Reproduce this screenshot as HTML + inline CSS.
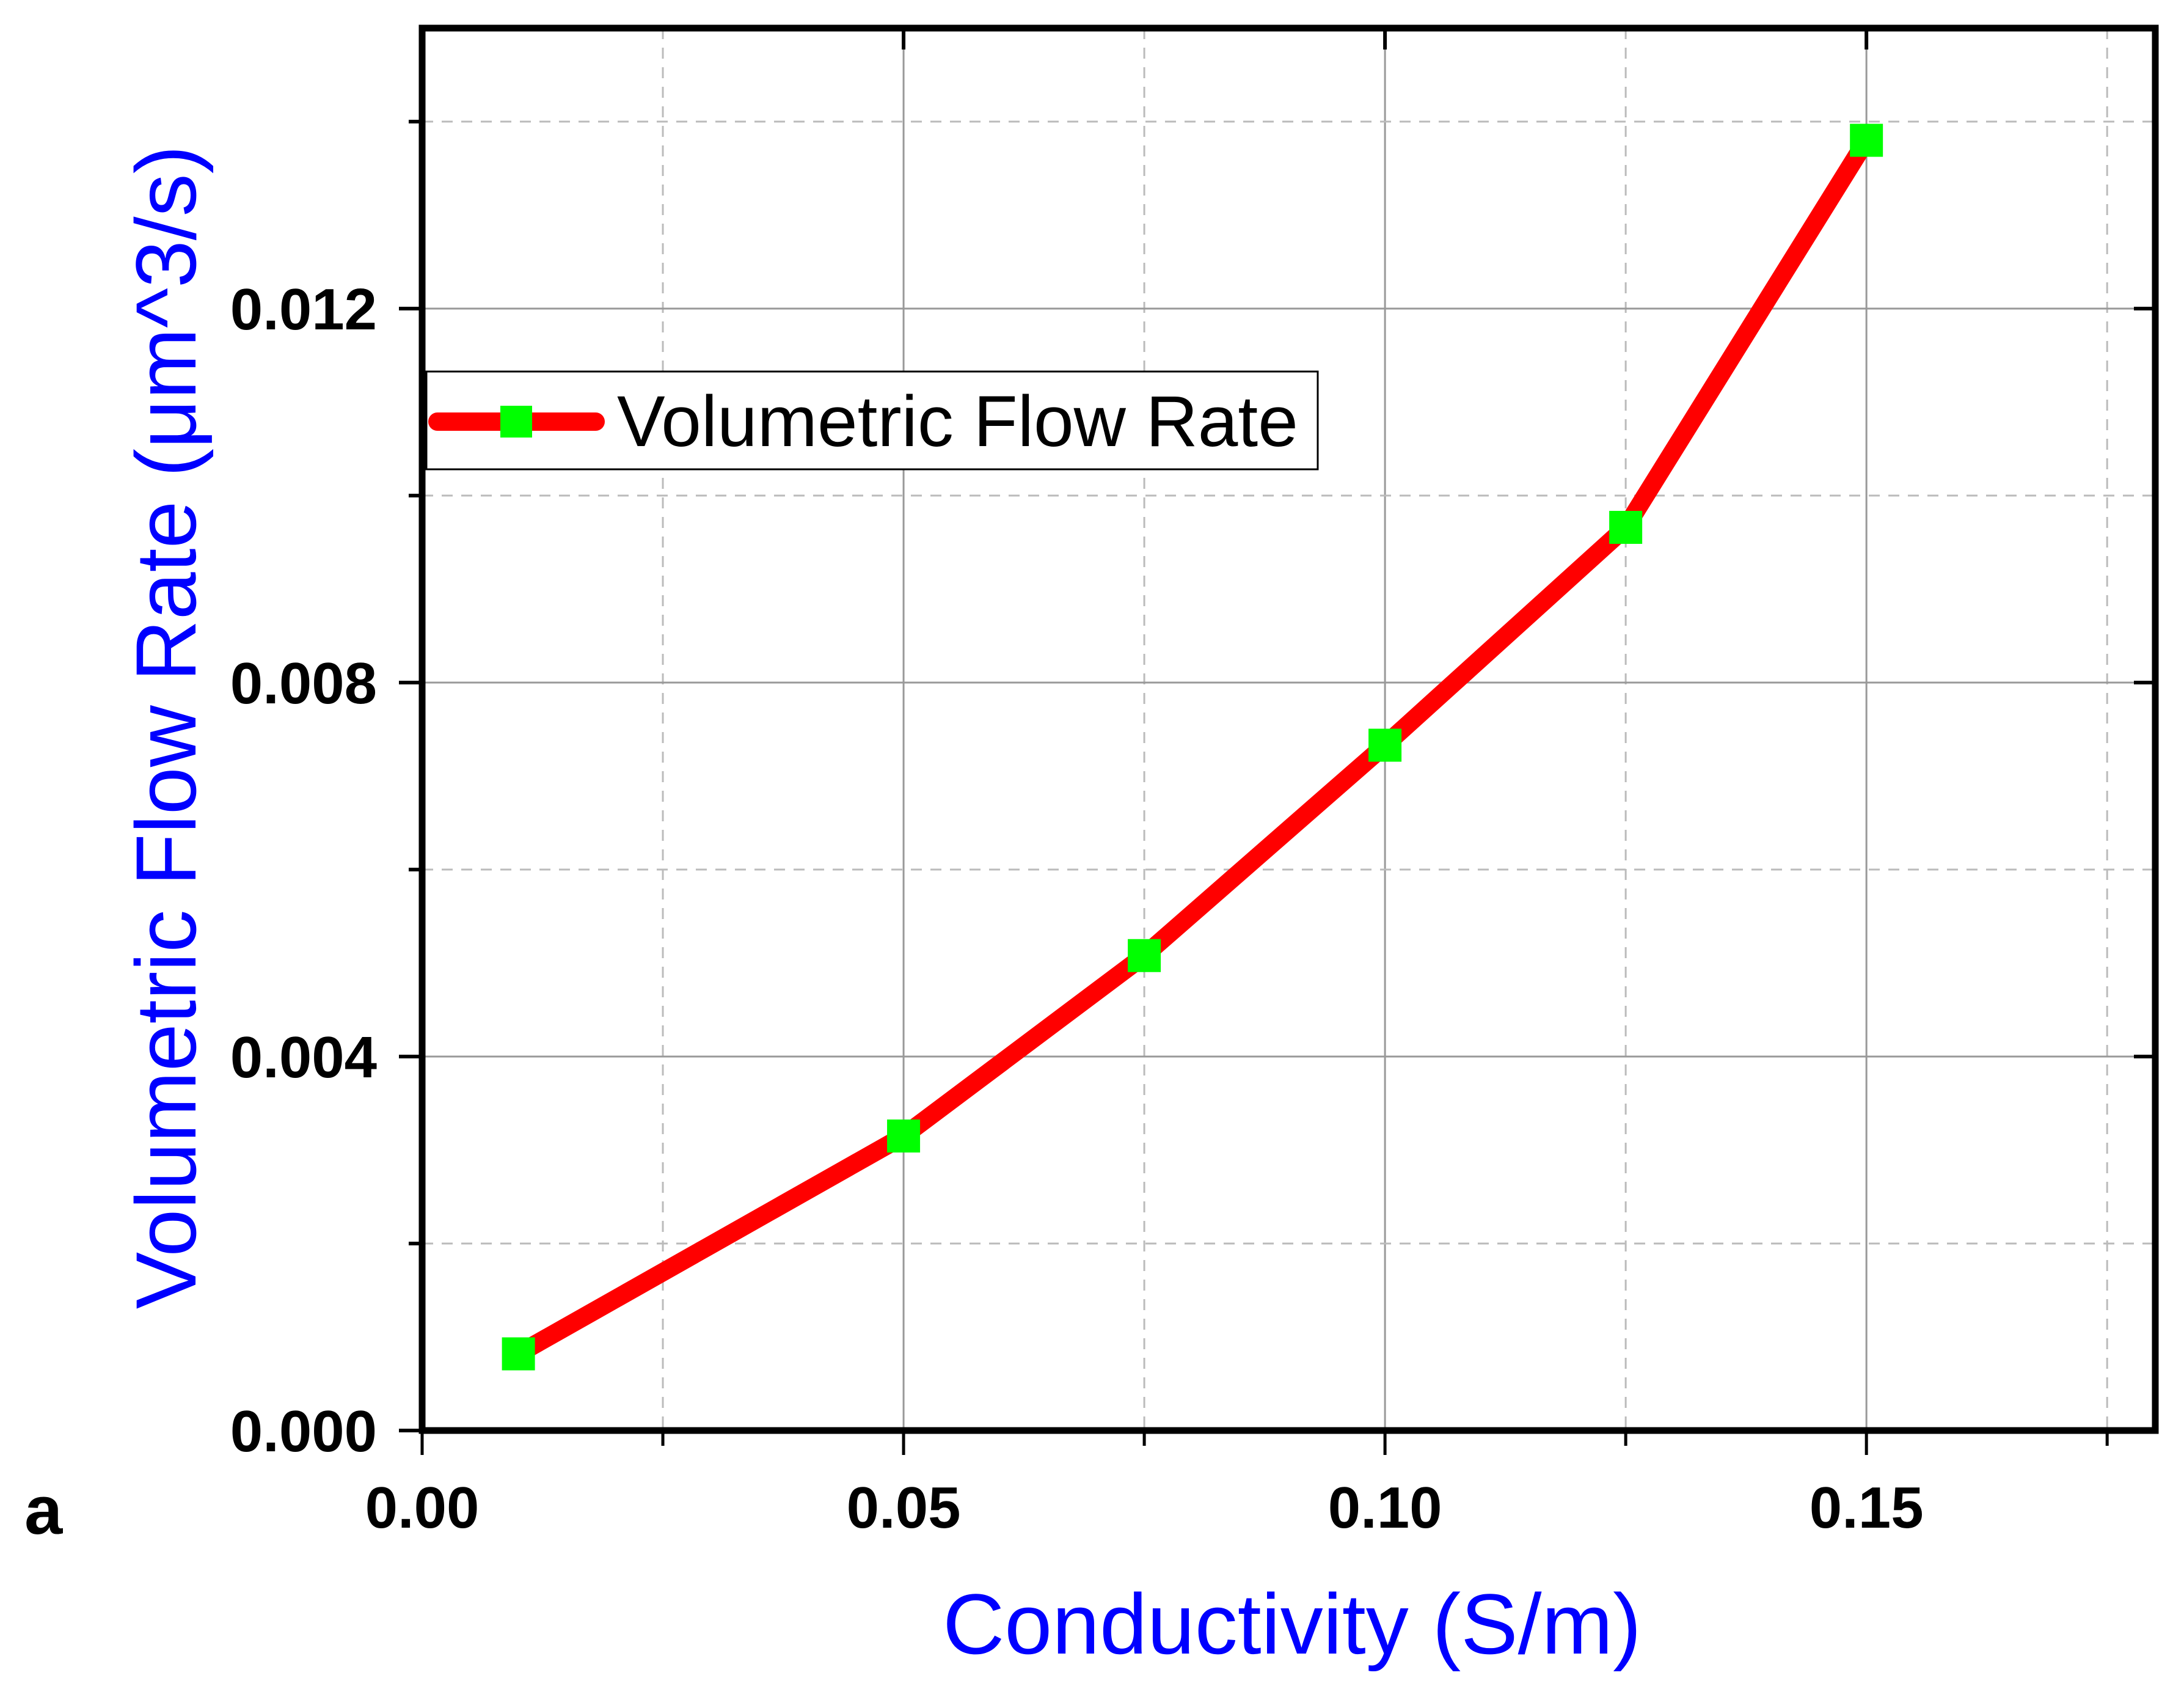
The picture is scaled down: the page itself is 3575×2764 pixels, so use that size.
<!DOCTYPE html>
<html><head><meta charset="utf-8"><style>
html,body{margin:0;padding:0;background:#fff;}
svg{display:block;}
text{font-family:"Liberation Sans",Arial,sans-serif;}
</style></head><body>
<svg id="chart" width="3575" height="2764" viewBox="0 0 3575 2764">
<g id="grid"></g>
<g id="series"></g>
<g id="axes"></g>
<rect x="698" y="608" width="1459" height="160" fill="#fff" stroke="#000" stroke-width="3"/>
<line x1="716" y1="690" x2="975" y2="690" stroke="#f00" stroke-width="30" stroke-linecap="round"/>
<rect x="819" y="664" width="52" height="52" fill="#00ff00"/>
<text x="1010" y="730" font-size="118" fill="#000">Volumetric Flow Rate</text>
<text x="2115" y="2706" font-size="140" fill="#0000ff" text-anchor="middle">Conductivity (S/m)</text>
<text transform="translate(320,1190) rotate(-90)" font-size="140" fill="#0000ff" text-anchor="middle">Volumetric Flow Rate (μm^3/s)</text>
<text x="40" y="2510" font-size="112" font-weight="bold" fill="#000">a</text>
</svg>
<script>
const xVals = [0.01, 0.05, 0.075, 0.10, 0.125, 0.15];
const yVals = [0.00082, 0.00315, 0.00508, 0.00733, 0.00966, 0.0138];
const xTicks = [0, 0.05, 0.10, 0.15];
const xTickLabels = ["0.00", "0.05", "0.10", "0.15"];
const xMinor = [0.025, 0.075, 0.125, 0.175];
const yTicks = [0, 0.004, 0.008, 0.012];
const yTickLabels = ["0.000", "0.004", "0.008", "0.012"];
const yMinor = [0.002, 0.006, 0.010, 0.014];

const L=691,R=3528,T=46,B=2341,XMAX=0.18,YMAX=0.015;
const sx=v=>L+(v/XMAX)*(R-L);
const sy=v=>B-(v/YMAX)*(B-T);
const NS="http://www.w3.org/2000/svg";
function mk(tag,attrs,parent){const e=document.createElementNS(NS,tag);for(const k in attrs)e.setAttribute(k,attrs[k]);parent.appendChild(e);return e;}
const grid=document.getElementById('grid'),axes=document.getElementById('axes'),ser=document.getElementById('series');

xTicks.forEach(v=>{if(v>0){const e=mk('line',{x1:sx(v),x2:sx(v),y1:T,y2:B,stroke:'#999','stroke-width':3},grid);

}});
xMinor.forEach(v=>{const e=mk('line',{x1:sx(v),x2:sx(v),y1:T,y2:B,stroke:'#bbb','stroke-width':3,'stroke-dasharray':'18 14'},grid);

});
yTicks.forEach(v=>{if(v>0){const e=mk('line',{x1:L,x2:R,y1:sy(v),y2:sy(v),stroke:'#999','stroke-width':3},grid);

}});
yMinor.forEach(v=>{const e=mk('line',{x1:L,x2:R,y1:sy(v),y2:sy(v),stroke:'#bbb','stroke-width':3,'stroke-dasharray':'18 14'},grid);

});

const pl=mk('polyline',{points:xVals.map((x,i)=>sx(x)+','+sy(yVals[i])).join(' '),fill:'none',stroke:'#f00','stroke-width':30,'stroke-linejoin':'round','stroke-linecap':'round'},ser);


xVals.forEach((x,i)=>{const r=mk('rect',{x:sx(x)-27,y:sy(yVals[i])-27,width:54,height:54,fill:'#00ff00'},ser);

});

const fr=mk('rect',{x:L,y:T,width:R-L,height:B-T,fill:'none',stroke:'#000','stroke-width':11},axes);



xTicks.forEach((v,i)=>{
 const t=mk('line',{x1:sx(v),x2:sx(v),y1:B,y2:B+40,stroke:'#000','stroke-width':5},axes);
 
 
 const t2=mk('line',{x1:sx(v),x2:sx(v),y1:T,y2:T+35,stroke:'#000','stroke-width':6},axes);
 
 
 const lb=mk('text',{x:sx(v),y:2500,'font-size':96,'font-weight':'bold','text-anchor':'middle',fill:'#000'},axes);
 lb.textContent=xTickLabels[i];
 
 
});
xMinor.forEach(v=>{const t=mk('line',{x1:sx(v),x2:sx(v),y1:B,y2:B+25,stroke:'#000','stroke-width':5},axes);

});
yTicks.forEach((v,i)=>{
 const t=mk('line',{x1:L-38,x2:L,y1:sy(v),y2:sy(v),stroke:'#000','stroke-width':6},axes);
 
 
 const t2=mk('line',{x1:R-35,x2:R+5,y1:sy(v),y2:sy(v),stroke:'#000','stroke-width':6},axes);
 
 
 const lb=mk('text',{x:617,y:sy(v)+34,'font-size':96,'font-weight':'bold','text-anchor':'end',fill:'#000'},axes);
 lb.textContent=yTickLabels[i];
 
 
});
yMinor.forEach(v=>{const t=mk('line',{x1:L-22,x2:L,y1:sy(v),y2:sy(v),stroke:'#000','stroke-width':6},axes);

});
</script>
</body></html>
